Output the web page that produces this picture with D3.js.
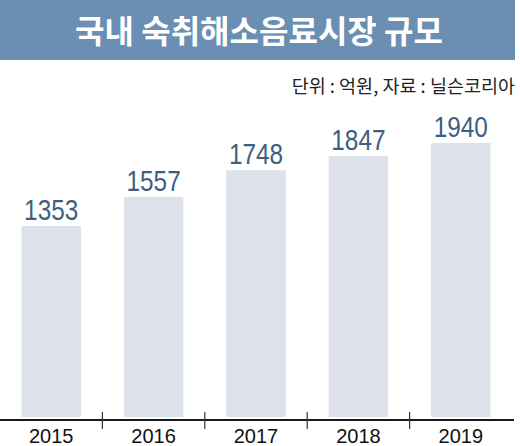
<!DOCTYPE html>
<html>
<head>
<meta charset="utf-8">
<script src="https://cdn.jsdelivr.net/npm/d3@7"></script>
<style>
  body { margin: 0; background: #fff; }
  svg { display: block; }
</style>
</head>
<body>
<svg></svg>
<script>
// data
var years = ["2015", "2016", "2017", "2018", "2019"];
var values = [1353, 1557, 1748, 1847, 1940];
var title = "국내 숙취해소음료시장 규모";
var note = "단위 : 억원, 자료 : 닐슨코리아";

var W = 520, H = 446,
    baseY = 417,
    axisY = 420;

var svg = d3.select("svg")
    .attr("width", W)
    .attr("height", H);

// title band
svg.append("rect")
    .attr("x", 0).attr("y", 0)
    .attr("width", 515).attr("height", 60)
    .attr("fill", "#6a8fb2");

svg.append("text")
    .attr("x", 259).attr("y", 31)
    .attr("dy", "0.36em")
    .attr("text-anchor", "middle")
    .attr("fill", "#fff")
    .style("font-family", "'Noto Sans CJK KR', sans-serif")
    .style("font-weight", 700)
    .style("font-size", "32px")
    .text(title);

svg.append("text")
    .attr("x", 515).attr("y", 86)
    .attr("dy", "0.36em")
    .attr("text-anchor", "end")
    .attr("fill", "#222")
    .style("font-family", "'Noto Sans CJK KR', sans-serif")
    .style("font-size", "18.5px")
    .text(note);

var x = d3.scaleBand()
    .domain(years)
    .range([0, 512])
    .paddingInner(0.42)
    .paddingOuter(0.21);

var y = d3.scaleLinear()
    .domain([0, d3.max(values)])
    .range([baseY, 143]);

var g = svg.append("g");

g.selectAll("rect.bar")
    .data(values)
    .enter().append("rect")
    .attr("class", "bar")
    .attr("x", function(d, i) { return x(years[i]); })
    .attr("y", function(d) { return y(d); })
    .attr("width", x.bandwidth())
    .attr("height", function(d) { return baseY - y(d); })
    .attr("fill", "#dde2ea");

// value labels, squeezed a bit to look condensed
g.selectAll("text.val")
    .data(values)
    .enter().append("text")
    .attr("class", "val")
    .attr("transform", function(d, i) {
      return "translate(" + (x(years[i]) + x.bandwidth() / 2) + "," + (y(d) - 6) + ") scale(0.84,1)";
    })
    .attr("text-anchor", "middle")
    .attr("fill", "#3d6082")
    .style("font-family", "'Liberation Sans', Arial, sans-serif")
    .style("font-size", "29px")
    .text(function(d) { return d; });

// x axis
var axis = svg.append("g")
    .attr("transform", "translate(0," + axisY + ")")
    .call(d3.axisBottom(x).tickSize(0).tickPadding(9));

axis.select(".domain")
    .attr("d", "M0,0H514")
    .attr("stroke", "#1a1a1a")
    .attr("stroke-width", 2);

axis.selectAll(".tick text")
    .attr("fill", "#111")
    .style("font-family", "'Liberation Sans', Arial, sans-serif")
    .style("font-size", "20px");

// separators between bands
var step = x.step();
axis.selectAll("line.sep")
    .data(years.slice(1))
    .enter().append("line")
    .attr("class", "sep")
    .attr("x1", function(d) { return x(d) - step * 0.21; })
    .attr("x2", function(d) { return x(d) - step * 0.21; })
    .attr("y1", -8).attr("y2", 9)
    .attr("stroke", "#333")
    .attr("stroke-width", 1.2);
</script>
</body>
</html>
